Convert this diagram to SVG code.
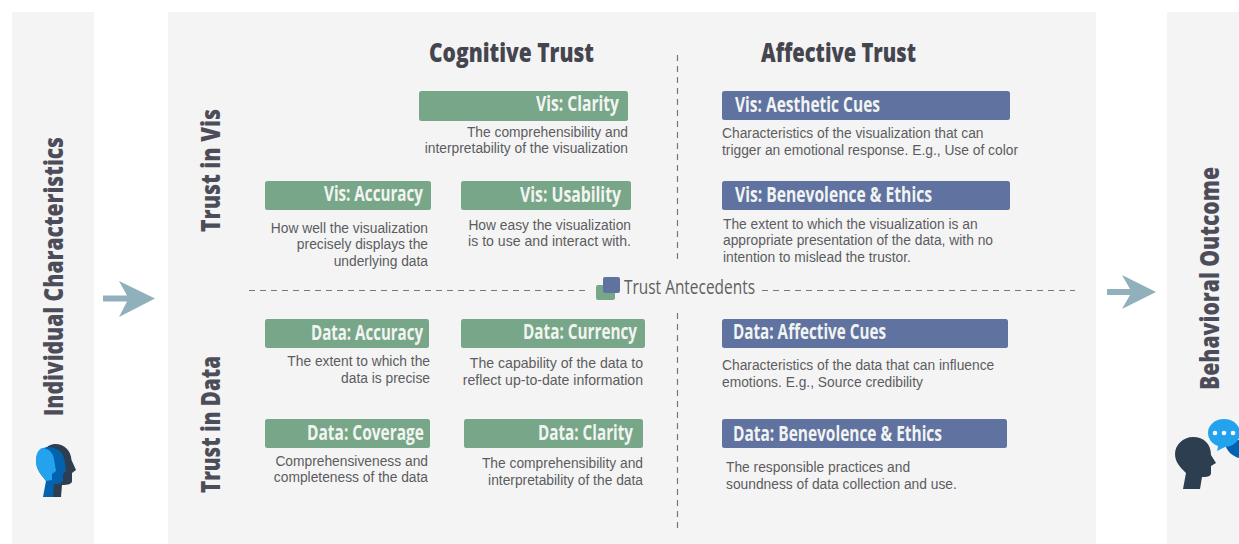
<svg xmlns="http://www.w3.org/2000/svg" width="1239" height="544" viewBox="0 0 1239 544">
<style>
.panel{fill:#f4f4f4}
.g{fill:#78a688}
.b{fill:#6073a0}
.lab{font-family:"Open Sans","Liberation Sans",sans-serif;font-weight:700;font-size:21px;fill:#f2f4f2}
.d{font-family:"Liberation Sans",Arial,sans-serif;font-size:13.800px;fill:#5c5c5f}
.h{font-family:"Open Sans","Liberation Sans",sans-serif;font-weight:800;font-size:27px;fill:#45454f}
.side{font-family:"Open Sans","Liberation Sans",sans-serif;font-weight:800;font-size:27px;fill:#4d4d5a}
.dash{stroke:#777;stroke-width:1.2;stroke-dasharray:6 5;fill:none}
.arrow{fill:#90b0bc}
.e{text-anchor:end}
.w{font-size:14.100px}
</style>
<rect class="panel" x="12" y="12" width="82" height="532"/>
<rect class="panel" x="168" y="12" width="928" height="532"/>
<rect class="panel" x="1167" y="12" width="72" height="532"/>

<g id="connectors">
<path class="dash" d="M677.500 55V262"/>
<path class="dash" d="M677.500 313V530"/>
<path class="dash" d="M249 290.500H586"/>
<path class="dash" d="M762 290.500H1075"/>
<path class="arrow" d="M119 281L155 298.500L119 317L127 301.500H103V295.500H127Z"/>
<path class="arrow" d="M1122 275L1156 292L1122 309L1130 295H1107V289H1130Z"/>
</g>

<g id="individual-characteristics">
<text class="side" transform="translate(63 416) rotate(-90)" textLength="279" lengthAdjust="spacingAndGlyphs">Individual Characteristics</text>
<path fill="#2c3e50" d="M46 448C49 445 52 444 55 444C65 444 71 451 71.500 460L76 470L72 473V481C72 484 68 485 62 485L61 497H53Z"/>
<path fill="#0362ad" d="M36 460C37 452 42 447 48 447C57 447 63 452 64.500 460L66 471L63 474V480C62 484 58 484 54 484L53 497H43L46 481C41 474 36 470 36 460Z"/>
<path fill="#23a3ee" d="M42 448C49 448 53 453 54 459L56 471L52 474V480L46 481C41 474 36 470 36 460C36 454 38 450 42 448Z"/>
</g>

<g id="behavioral-outcome">
<text class="side" transform="translate(1219 390) rotate(-90)" textLength="223" lengthAdjust="spacingAndGlyphs">Behavioral Outcome</text>
<path fill="#2c3e50" d="M1193 437C1204 437 1211 444 1211 455L1216 463L1211 466V473C1211 477 1206 477 1202 477L1200 489H1183L1186 473C1180 467 1175 462 1175 454C1175 445 1183 437 1193 437Z"/>
<path fill="#0362ad" d="M1225 440H1239V458C1232 456 1228 452 1225 445Z"/>
<ellipse cx="1224" cy="433" rx="16" ry="14" fill="#23a3ee"/>
<path fill="#23a3ee" d="M1219 442L1217 451L1229 445Z"/>
<circle cx="1215" cy="433" r="2.300" fill="#fff"/><circle cx="1224" cy="433" r="2.300" fill="#fff"/><circle cx="1233" cy="433" r="2.300" fill="#fff"/>
</g>

<g id="headers">
<text class="h" x="429" y="62" textLength="165" lengthAdjust="spacingAndGlyphs">Cognitive Trust</text>
<text class="h" x="761" y="62" textLength="155" lengthAdjust="spacingAndGlyphs">Affective Trust</text>
<text class="side" transform="translate(220 232) rotate(-90)" textLength="123" lengthAdjust="spacingAndGlyphs">Trust in Vis</text>
<text class="side" transform="translate(220 493) rotate(-90)" textLength="137" lengthAdjust="spacingAndGlyphs">Trust in Data</text>
</g>

<g id="trust-antecedents">
<rect class="g" x="596" y="285" width="19" height="15" rx="2"/>
<rect class="b" x="603" y="277" width="17" height="16" rx="2"/>
<text x="624" y="294" font-family="'Open Sans','Liberation Sans',sans-serif" font-size="20" fill="#5f5f62" textLength="131" lengthAdjust="spacingAndGlyphs">Trust Antecedents</text>
</g>

<g id="vis-clarity">
<rect class="g" x="419" y="91" width="209" height="30" rx="2.500"/>
<text class="lab" x="536" y="111" textLength="83" lengthAdjust="spacingAndGlyphs">Vis: Clarity</text>
<text class="d e" x="628" y="137">The comprehensibility and</text>
<text class="d e" x="628" y="153">interpretability of the visualization</text>
</g>
<g id="vis-accuracy">
<rect class="g" x="265" y="181" width="166" height="29" rx="2.500"/>
<text class="lab" x="324" y="201" textLength="99" lengthAdjust="spacingAndGlyphs">Vis: Accuracy</text>
<text class="d e" x="428" y="233">How well the visualization</text>
<text class="d e" x="428" y="249">precisely displays the</text>
<text class="d e" x="428" y="266">underlying data</text>
</g>
<g id="vis-usability">
<rect class="g" x="461" y="181" width="170" height="29" rx="2.500"/>
<text class="lab" x="520" y="202" textLength="101" lengthAdjust="spacingAndGlyphs">Vis: Usability</text>
<text class="d e" x="631" y="230">How easy the visualization</text>
<text class="d e w" x="631" y="246">is to use and interact with.</text>
</g>
<g id="vis-aesthetic-cues">
<rect class="b" x="722" y="91" width="288" height="29" rx="2.500"/>
<text class="lab" x="735" y="112" textLength="145" lengthAdjust="spacingAndGlyphs">Vis: Aesthetic Cues</text>
<text class="d" x="722" y="138">Characteristics of the visualization that can</text>
<text class="d" x="722" y="155">trigger an emotional response. E.g., Use of color</text>
</g>
<g id="vis-benevolence-ethics">
<rect class="b" x="722" y="181" width="288" height="29" rx="2.500"/>
<text class="lab" x="735" y="202" textLength="197" lengthAdjust="spacingAndGlyphs">Vis: Benevolence &amp; Ethics</text>
<text class="d" x="723" y="229">The extent to which the visualization is an</text>
<text class="d" x="723" y="245">appropriate presentation of the data, with no</text>
<text class="d" x="723" y="262">intention to mislead the trustor.</text>
</g>
<g id="data-accuracy">
<rect class="g" x="265" y="319" width="164" height="29" rx="2.500"/>
<text class="lab" x="311" y="340" textLength="112" lengthAdjust="spacingAndGlyphs">Data: Accuracy</text>
<text class="d e" x="430" y="366">The extent to which the</text>
<text class="d e" x="430" y="383">data is precise</text>
</g>
<g id="data-currency">
<rect class="g" x="461" y="319" width="184" height="29" rx="2.500"/>
<text class="lab" x="523" y="339" textLength="114" lengthAdjust="spacingAndGlyphs">Data: Currency</text>
<text class="d e w" x="643" y="368">The capability of the data to</text>
<text class="d e w" x="643" y="385">reflect up-to-date information</text>
</g>
<g id="data-coverage">
<rect class="g" x="265" y="419" width="165" height="29" rx="2.500"/>
<text class="lab" x="307" y="440" textLength="117" lengthAdjust="spacingAndGlyphs">Data: Coverage</text>
<text class="d e" x="428" y="466">Comprehensiveness and</text>
<text class="d e" x="428" y="482">completeness of the data</text>
</g>
<g id="data-clarity">
<rect class="g" x="464" y="419" width="179" height="29" rx="2.500"/>
<text class="lab" x="538" y="440" textLength="95" lengthAdjust="spacingAndGlyphs">Data: Clarity</text>
<text class="d e" x="643" y="468">The comprehensibility and</text>
<text class="d e" x="643" y="485">interpretability of the data</text>
</g>
<g id="data-affective-cues">
<rect class="b" x="722" y="319" width="286" height="29" rx="2.500"/>
<text class="lab" x="733" y="339" textLength="153" lengthAdjust="spacingAndGlyphs">Data: Affective Cues</text>
<text class="d" x="722" y="370">Characteristics of the data that can influence</text>
<text class="d" x="722" y="387">emotions. E.g., Source credibility</text>
</g>
<g id="data-benevolence-ethics">
<rect class="b" x="722" y="419" width="285" height="29" rx="2.500"/>
<text class="lab" x="733" y="441" textLength="209" lengthAdjust="spacingAndGlyphs">Data: Benevolence &amp; Ethics</text>
<text class="d" x="726" y="472">The responsible practices and</text>
<text class="d" x="726" y="489">soundness of data collection and use.</text>
</g>
</svg>
